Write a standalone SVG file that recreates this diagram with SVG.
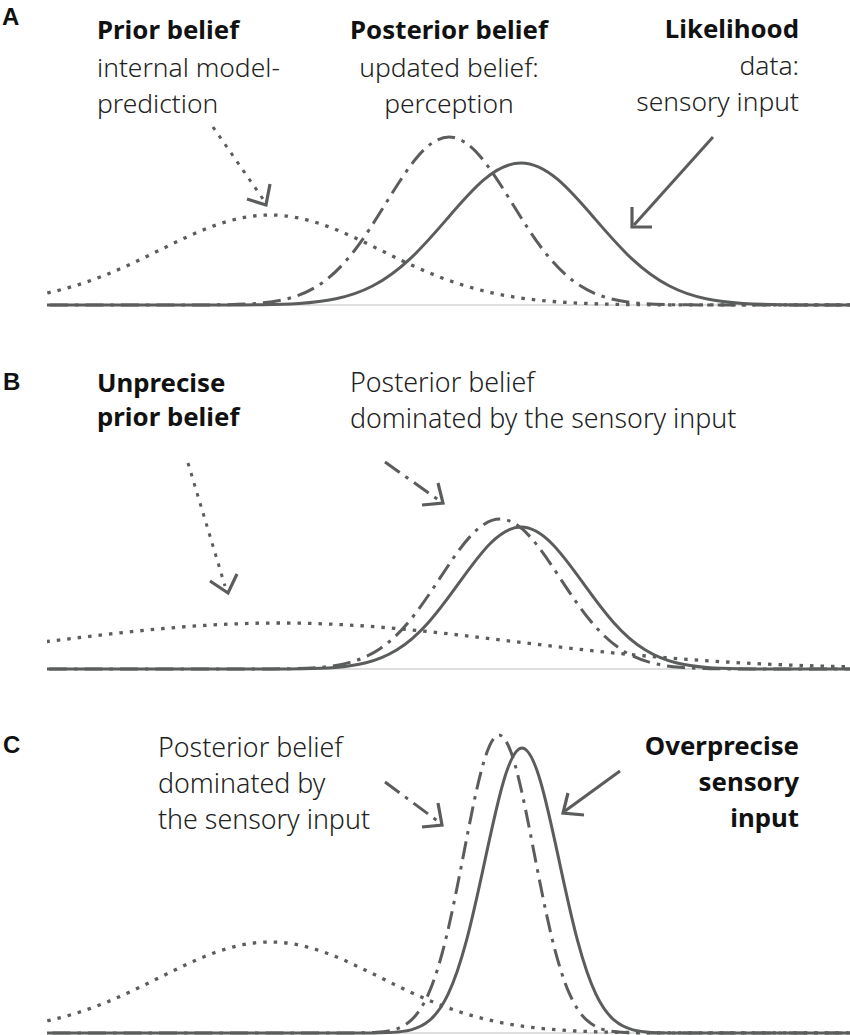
<svg xmlns="http://www.w3.org/2000/svg" xmlns:xlink="http://www.w3.org/1999/xlink" width="850" height="1035" viewBox="0 0 850 1035">
<style>
.bg{fill:#ffffff}
.axis{stroke:#d4d4d4;stroke-width:1.5;fill:none}
.crv{fill:none;stroke:#5b5d5d;stroke-width:3}
.solid{}
.dot{stroke-dasharray:3.5 7;stroke-width:3.3}
.dd{stroke-dasharray:18 7 3.5 7}
.arr{fill:none;stroke:#5b5d5d;stroke-width:3}
.head{fill:none;stroke:#5b5d5d;stroke-width:3.2;stroke-linejoin:miter}
.lbl{font-family:"Liberation Sans",Arial,sans-serif;font-weight:700;font-size:24px;fill:#111}
.t{font-family:"Noto Sans","Open Sans",sans-serif}
.b{font-weight:700;font-size:25.8px;fill:#111}
.r{font-weight:300;font-size:26.8px;fill:#222}
.ra{font-size:26.4px}
</style>
<defs>
<path id="g" vector-effect="non-scaling-stroke" d="M -30 0 L -4 -0.00034 C -3.8333 -0.00056 -3.6667 -0.00091 -3.5 -0.00219 C -3.3333 -0.00347 -3.1667 -0.00555 -3 -0.01111 C -2.8333 -0.01667 -2.6667 -0.02563 -2.5 -0.04394 C -2.3333 -0.06225 -2.1667 -0.09023 -2 -0.13534 C -1.8333 -0.18045 -1.6667 -0.24349 -1.5 -0.32465 C -1.3333 -0.40581 -1.1667 -0.50544 -1 -0.60653 C -0.8333 -0.70762 -0.6667 -0.80896 -0.5 -0.8825 C -0.3333 -0.95604 -0.1667 -1 0 -1 C 0.1667 -1 0.3333 -0.95604 0.5 -0.8825 C 0.6667 -0.80896 0.8333 -0.70762 1 -0.60653 C 1.1667 -0.50544 1.3333 -0.40581 1.5 -0.32465 C 1.6667 -0.24349 1.8333 -0.18045 2 -0.13534 C 2.1667 -0.09023 2.3333 -0.06225 2.5 -0.04394 C 2.6667 -0.02563 2.8333 -0.01667 3 -0.01111 C 3.1667 -0.00555 3.3333 -0.00347 3.5 -0.00219 C 3.6667 -0.00091 3.8333 -0.00056 4 -0.00034 L 30 0"/>
<clipPath id="clip"><rect x="47" y="0" width="803" height="1035"/></clipPath>
</defs>
<rect class="bg" x="0" y="0" width="850" height="1035"/>

<g id="panelA">
<text class="lbl" x="2" y="25">A</text>
<line class="axis" x1="47" y1="305" x2="850" y2="305"/>
<g clip-path="url(#clip)">
<use id="A-prior" xlink:href="#g" class="crv dot" transform="translate(270 305) scale(111 90)"/>
<use id="A-posterior" xlink:href="#g" class="crv dd" transform="translate(449 305) scale(63 168)"/>
<use id="A-likelihood" xlink:href="#g" class="crv solid" transform="translate(521 305) scale(74 142)"/>
</g>
<g id="A-prior-label">
<text class="t"><tspan class="b" x="97" y="39">Prior belief</tspan><tspan class="r ra" x="97" y="77">internal model-</tspan><tspan class="r ra" x="97" y="113">prediction</tspan></text>
</g>
<g id="A-posterior-label">
<text class="t" text-anchor="middle"><tspan class="b" x="449" y="39">Posterior belief</tspan><tspan class="r ra" x="449" y="77">updated belief:</tspan><tspan class="r ra" x="449" y="113">perception</tspan></text>
</g>
<g id="A-likelihood-label">
<text class="t" text-anchor="end"><tspan class="b" x="799" y="38">Likelihood</tspan><tspan class="r ra" x="799" y="75">data:</tspan><tspan class="r ra" x="799" y="111">sensory input</tspan></text>
</g>
</g>

<g id="panelB">
<text class="lbl" x="3" y="390">B</text>
<line class="axis" x1="47" y1="669" x2="850" y2="669"/>
<g clip-path="url(#clip)">
<use id="B-prior" xlink:href="#g" class="crv dot" transform="translate(280 669) scale(230 46)"/>
<use id="B-posterior" xlink:href="#g" class="crv dd" transform="translate(500 669) scale(60 150)"/>
<use id="B-likelihood" xlink:href="#g" class="crv solid" transform="translate(521 669) scale(62 142)"/>
</g>
<g id="B-prior-label">
<text class="t"><tspan class="b" x="97" y="392">Unprecise</tspan><tspan class="b" x="97" y="426">prior belief</tspan></text>
</g>
<g id="B-posterior-label">
<text class="t"><tspan class="r" x="350" y="392">Posterior belief</tspan><tspan class="r" x="350" y="428">dominated by the sensory input</tspan></text>
</g>
</g>

<g id="panelC">
<text class="lbl" x="3" y="753">C</text>
<line class="axis" x1="47" y1="1033" x2="850" y2="1033"/>
<g clip-path="url(#clip)">
<use id="C-prior" xlink:href="#g" class="crv dot" transform="translate(270 1033) scale(111 91)"/>
<use id="C-posterior" xlink:href="#g" class="crv dd" transform="translate(499 1033) scale(35 298)"/>
<use id="C-likelihood" xlink:href="#g" class="crv solid" transform="translate(522 1033) scale(37 285)"/>
</g>
<g id="C-posterior-label">
<text class="t"><tspan class="r" x="158" y="757">Posterior belief</tspan><tspan class="r" x="158" y="793">dominated by</tspan><tspan class="r" x="158" y="829">the sensory input</tspan></text>
</g>
<g id="C-likelihood-label">
<text class="t" text-anchor="end"><tspan class="b" x="799" y="755">Overprecise</tspan><tspan class="b" x="799" y="791">sensory</tspan><tspan class="b" x="799" y="827">input</tspan></text>
</g>
</g>

<g id="connectors">
<line class="arr dot" x1="213" y1="127" x2="263" y2="199"/>
<polyline class="head" points="247,199 266,205 270,184"/>
<line class="arr" x1="713" y1="137" x2="634" y2="225"/>
<polyline class="head" points="632,207 632,227 652,227"/>
<line class="arr dot" x1="188" y1="463" x2="225" y2="586"/>
<polyline class="head" points="210,581 228,593 237,574"/>
<line class="arr dd" x1="385" y1="462" x2="440" y2="501"/>
<polyline class="head" points="438,483 443,503 422,505"/>
<line class="arr dd" x1="385" y1="782" x2="439" y2="822"/>
<polyline class="head" points="438,803 442,825 422,827"/>
<line class="arr" x1="620" y1="771" x2="565" y2="811"/>
<polyline class="head" points="568,793 563,813 584,815"/>
</g>
</svg>
